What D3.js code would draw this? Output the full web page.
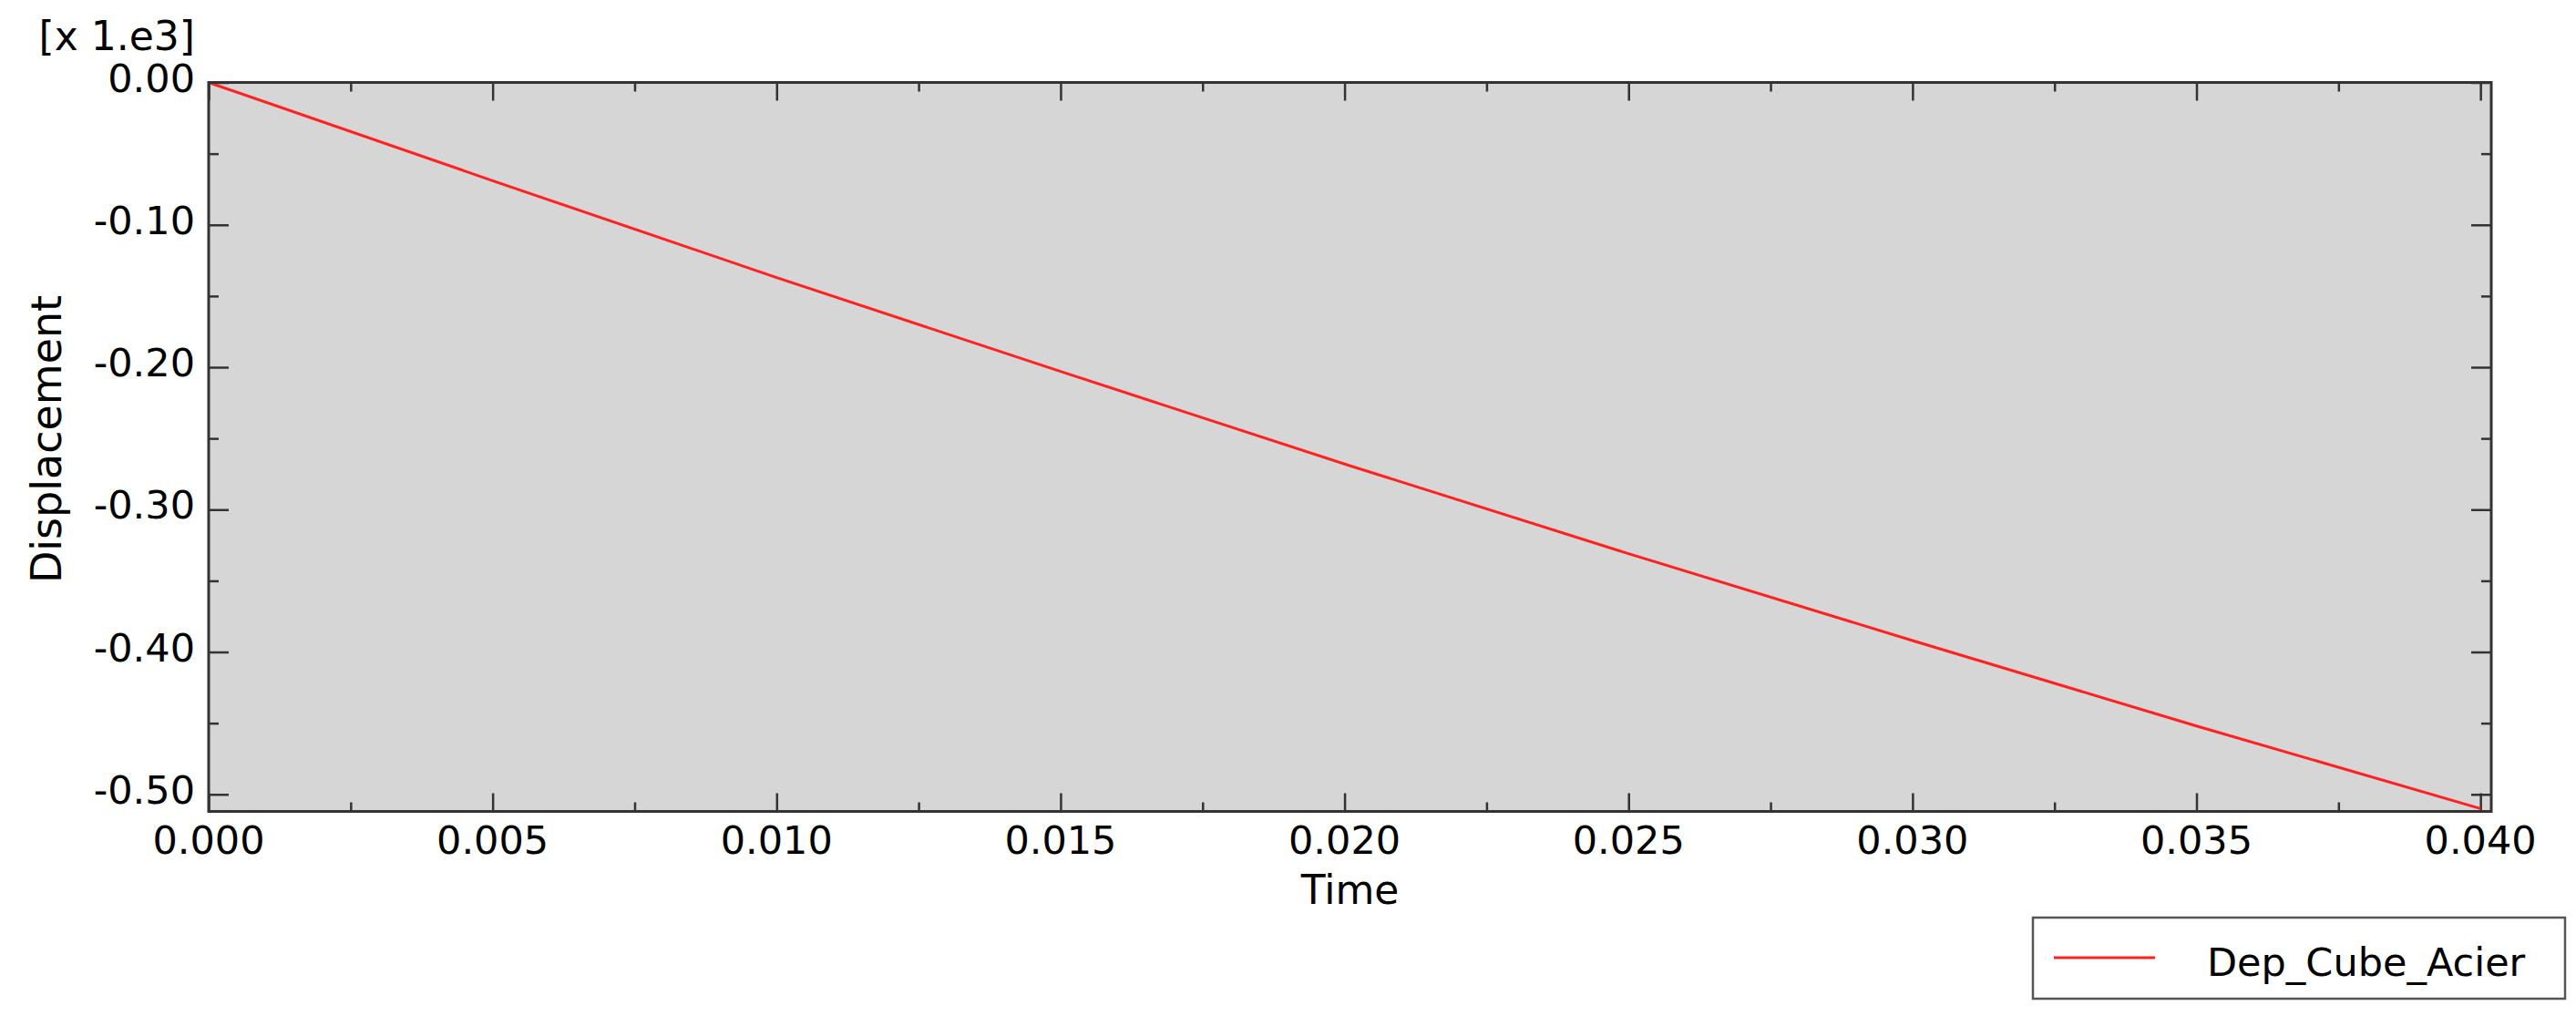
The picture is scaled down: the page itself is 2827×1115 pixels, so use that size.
<!DOCTYPE html>
<html>
    <head>
        <title>Dep_Cube_Acier</title>
        <meta charset="utf-8">
        <style>
            body{
                margin:0;
                background:#fff;
            }
            text{
                font-family:"DejaVu Sans", Verdana, sans-serif;
                fill:#000;
            }
        </style>
    </head>
    <body>
        <script src="https://cdnjs.cloudflare.com/ajax/libs/d3/7.8.5/d3.min.js"></script>
        <script>

            // data (displacement in x 1.e3)
            var seriesName = "Dep_Cube_Acier";
            var times = [0.000, 0.005, 0.010, 0.015, 0.020, 0.025, 0.030, 0.035, 0.040];
            var displacement = [0.000, -0.069, -0.137, -0.203, -0.268, -0.331, -0.392, -0.452, -0.510];

            var xTicks = [0.000, 0.005, 0.010, 0.015, 0.020, 0.025, 0.030, 0.035, 0.040];
            var xMinor = [0.0025, 0.0075, 0.0125, 0.0175, 0.0225, 0.0275, 0.0325, 0.0375];
            var yTicks = [0.00, -0.10, -0.20, -0.30, -0.40, -0.50];
            var yMinor = [-0.05, -0.15, -0.25, -0.35, -0.45];

            var width = 2827;
            var height = 1115;
            // plot box (note: "top" is reserved on window)
            var pL = 229, pR = 2734, pT = 90.5, pB = 890.5;

            var loc = d3.formatLocale({decimal: ".", thousands: "", grouping: [3], currency: ["", ""], minus: "-"});
            var fx = loc.format(".3f");
            var fy = loc.format(".2f");

            var x = d3.scaleLinear().domain([0, 0.04019]).range([pL, pR]);
            var y = d3.scaleLinear().domain([-0.512, 0]).range([pB, pT]);

            var svg = d3.select("body")
                    .append("svg")
                    .attr("width", width)
                    .attr("height", height);

            svg.append("rect")
                    .attr("x", pL)
                    .attr("y", pT)
                    .attr("width", pR - pL)
                    .attr("height", pB - pT)
                    .attr("fill", "#d6d6d6");

            // ticks on all four sides, pointing inwards
            function ticks(axis, vals, size, tx) {
              var g = svg.append("g")
                      .attr("transform", tx)
                      .call(axis.tickValues(vals).tickSize(size).tickFormat(""));
              g.select(".domain").remove();
              g.selectAll("line").attr("stroke", "#333").attr("stroke-width", 2.5);
              return g;
            }

            ticks(d3.axisBottom(x), xTicks, -20, "translate(0," + pB + ")");
            ticks(d3.axisBottom(x), xMinor, -10, "translate(0," + pB + ")");
            ticks(d3.axisTop(x), xTicks, -20, "translate(0," + pT + ")");
            ticks(d3.axisTop(x), xMinor, -10, "translate(0," + pT + ")");
            ticks(d3.axisLeft(y), yTicks, -22, "translate(" + pL + ",0)");
            ticks(d3.axisLeft(y), yMinor, -11, "translate(" + pL + ",0)");
            ticks(d3.axisRight(y), yTicks, -22, "translate(" + pR + ",0)");
            ticks(d3.axisRight(y), yMinor, -11, "translate(" + pR + ",0)");

            // series
            var line = d3.line()
                    .x(function(d) { return x(d[0]); })
                    .y(function(d) { return y(d[1]); });

            svg.append("path")
                    .datum(d3.zip(times, displacement))
                    .attr("d", line)
                    .attr("fill", "none")
                    .attr("stroke", "#ff2020")
                    .attr("stroke-width", 3);

            // frame
            svg.append("rect")
                    .attr("x", pL)
                    .attr("y", pT)
                    .attr("width", pR - pL)
                    .attr("height", pB - pT)
                    .attr("fill", "none")
                    .attr("stroke", "#333")
                    .attr("stroke-width", 3);

            // tick labels
            svg.selectAll("text.xl")
                    .data(xTicks)
                    .enter()
                    .append("text")
                    .attr("class", "xl")
                    .attr("x", function(d) { return x(d); })
                    .attr("y", pB + 46)
                    .attr("text-anchor", "middle")
                    .attr("font-size", 43)
                    .text(fx);

            svg.selectAll("text.yl")
                    .data(yTicks)
                    .enter()
                    .append("text")
                    .attr("class", "yl")
                    .attr("x", 214)
                    .attr("y", function(d) { return y(d) + 10; })
                    .attr("text-anchor", "end")
                    .attr("font-size", 43)
                    .text(fy);

            svg.append("text")
                    .attr("x", 214)
                    .attr("y", 55)
                    .attr("text-anchor", "end")
                    .attr("font-size", 44)
                    .text("[x 1.e3]");

            svg.append("text")
                    .attr("x", (pL + pR) / 2)
                    .attr("y", 992)
                    .attr("text-anchor", "middle")
                    .attr("font-size", 44)
                    .text("Time");

            svg.append("text")
                    .attr("transform", "translate(67,482) rotate(-90)")
                    .attr("text-anchor", "middle")
                    .attr("font-size", 46)
                    .text("Displacement");

            // legend
            var lg = svg.append("g");
            lg.append("rect")
                    .attr("x", 2231)
                    .attr("y", 1007)
                    .attr("width", 2815 - 2231)
                    .attr("height", 1096 - 1007)
                    .attr("fill", "#fff")
                    .attr("stroke", "#555")
                    .attr("stroke-width", 2.5);
            lg.append("line")
                    .attr("x1", 2254)
                    .attr("x2", 2365)
                    .attr("y1", 1051)
                    .attr("y2", 1051)
                    .attr("stroke", "#ff2020")
                    .attr("stroke-width", 3);
            lg.append("text")
                    .attr("x", 2422)
                    .attr("y", 1071)
                    .attr("font-size", 43)
                    .text(seriesName);

        </script>
    </body>
</html>
